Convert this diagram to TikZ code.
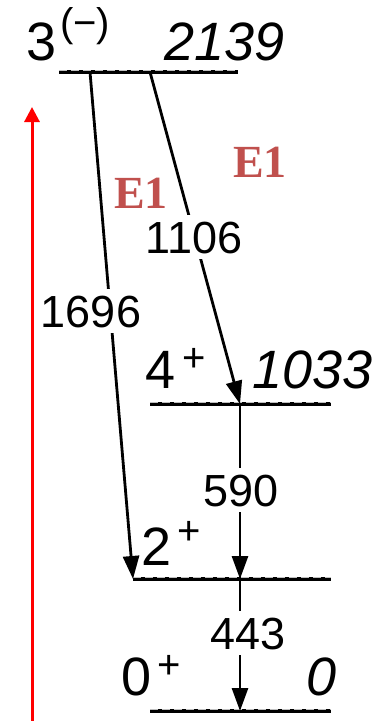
\documentclass[tikz,border=0pt]{standalone}
\usepackage{fontspec}
\setmainfont{Liberation Sans}
\newfontfamily\serifbold{Liberation Serif}
\usetikzlibrary{arrows.meta}
\definecolor{eone}{HTML}{C0504D}
\begin{document}
\begin{tikzpicture}[x=1pt,y=-1pt,
  levline/.style={line width=3.2pt},
  leveldash/.style={line width=0.6pt,white!50!gray,dash pattern=on 8pt off 4pt},
  gamma/.style={line width=2.8pt,-{Triangle[length=23pt,width=16pt]}},
  glabel/.style={fill=white,font=\fontsize{45}{45}\selectfont,text height=32pt,text depth=0pt,inner xsep=1pt,inner ysep=6pt},
  spin/.style={font=\fontsize{54}{54}\selectfont,inner sep=0pt,anchor=base west},
  sup/.style={font=\fontsize{40}{40}\selectfont,inner sep=0pt,anchor=center},
  energy/.style={font=\fontsize{54}{54}\selectfont\itshape,inner sep=0pt,anchor=base west},
  eonelabel/.style={font=\fontsize{46}{46}\selectfont\serifbold\bfseries,text=eone,inner sep=0pt,anchor=base}]
\useasboundingbox (0,0) rectangle (379,721);
% level end points
\coordinate (A1) at (59,72);   \coordinate (A2) at (238,72);
\coordinate (B1) at (150,404); \coordinate (B2) at (331,404);
\coordinate (C1) at (133,579); \coordinate (C2) at (331,579);
\coordinate (D1) at (150,711); \coordinate (D2) at (331,711);
% transition points
\coordinate (s1696) at (90,72);  \coordinate (e1696) at (133,579);
\coordinate (s1106) at (150,72); \coordinate (e1106) at (240,404);
\coordinate (s590) at (240,404); \coordinate (e590) at (240,579);
\coordinate (s443) at (240,579); \coordinate (e443) at (240,711);
% levels
\foreach \a/\b in {A1/A2,B1/B2,C1/C2,D1/D2}{
  \draw[levline] (\a) -- (\b);
  \draw[leveldash] ([yshift=1.3pt]\a) -- ([yshift=1.3pt]\b);
}
% transitions
\draw[gamma] (s1696) -- (e1696);
\draw[gamma] (s1106) -- (e1106);
\draw[gamma] (s590) -- (e590);
\draw[gamma] (s443) -- (e443);
% transition labels
\node[glabel] (l1696) at (91,311) {1696};
\node[glabel] (l1106) at (194,237) {1106};
\node[glabel] (l590) at (241,490) {590};
\node[glabel] (l443) at (248,633) {443};
% level labels
\node[spin] (j3) at (26,60) {3};
\node[sup] (j3s) at (85,26) {(−)};
\node[energy] (E2139) at (164,60) {2139};
\node[spin] (j4) at (145,388) {4};
\node[sup] (j4s) at (194,360) {+};
\node[energy] (E1033) at (252,388) {1033};
\node[spin] (j2) at (141,565) {2};
\node[sup] (j2s) at (189,533) {+};
\node[spin] (j0) at (121,695) {0};
\node[sup] (j0s) at (169,667) {+};
\node[energy] (E0) at (306,695) {0};
% E1 labels
\node[eonelabel] (eA) at (141,208) {E1};
\node[eonelabel] (eB) at (260,177) {E1};
% red arrow
\coordinate (r0) at (32,721);
\coordinate (r1) at (32,107);
\draw[red,line width=3pt,-{Triangle[length=15pt,width=15pt]}] (r0) -- (r1);
\end{tikzpicture}
\end{document}
